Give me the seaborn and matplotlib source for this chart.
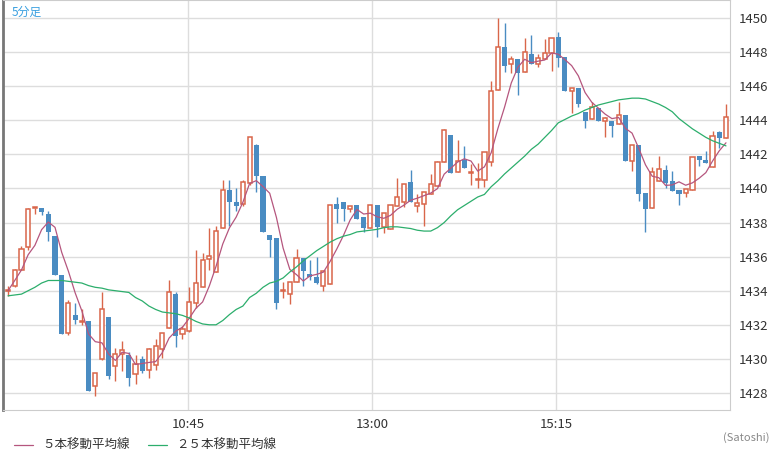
import numpy as np
import pandas as pd
import matplotlib
matplotlib.use("Agg")
import matplotlib.pyplot as plt
import seaborn as sns

opens = [1434.0,1434.3,1435.2,1436.55,1438.85,1438.85,1438.5,1437.2,1434.95,1431.5,1432.6,1432.15,1432.2,1428.4,1430.0,1432.45,1429.6,1430.3,1430.2,1429.1,
 1430.0,1429.35,1429.65,1430.6,1431.8,1433.8,1431.45,1431.65,1433.3,1434.2,1435.85,1435.1,1437.7,1439.9,1439.2,1439.1,1440.3,1442.55,1440.75,1437.25,
 1437.1,1434.0,1433.8,1434.5,1435.9,1435.0,1434.8,1434.3,1434.4,1439.1,1439.2,1438.8,1439.05,1438.3,1437.7,1439.05,1437.75,1437.6,1439.0,1439.2,
 1440.4,1439.0,1439.1,1439.65,1440.15,1441.55,1443.15,1440.95,1441.7,1440.9,1440.5,1440.5,1441.55,1445.75,1448.3,1447.3,1447.6,1446.85,1447.9,1447.3,
 1447.6,1447.95,1448.9,1447.7,1445.7,1445.9,1444.5,1444.1,1444.7,1443.95,1443.95,1443.8,1444.3,1441.6,1442.55,1439.75,1438.85,1440.45,1441.1,1440.45,
 1439.9,1439.75,1439.9,1441.9,1441.7,1441.25,1443.3,1442.95]
highs = [1434.3,1435.3,1436.6,1438.85,1438.85,1438.85,1438.7,1437.2,1434.95,1433.45,1433.3,1432.9,1432.2,1429.2,1433.9,1432.45,1430.65,1431.05,1430.4,1430.2,
 1430.15,1430.65,1431.15,1431.5,1434.6,1433.9,1431.95,1434.2,1436.4,1436.2,1437.7,1437.8,1440.5,1440.5,1440.0,1440.5,1443.0,1442.6,1440.75,1437.25,
 1437.1,1434.5,1434.5,1436.45,1435.9,1435.8,1436.0,1435.15,1439.05,1439.5,1439.2,1439.0,1439.05,1438.3,1439.05,1439.05,1438.55,1439.05,1440.6,1440.25,
 1441.1,1439.7,1439.8,1440.85,1441.6,1443.5,1443.15,1442.85,1442.5,1441.45,1441.5,1442.15,1446.3,1450.0,1449.7,1447.8,1447.6,1448.85,1449.0,1447.9,
 1448.8,1448.85,1449.2,1447.7,1445.9,1445.9,1444.5,1445.1,1444.7,1444.2,1443.95,1445.05,1444.3,1442.55,1442.55,1439.75,1441.25,1441.9,1441.4,1441.0,
 1439.9,1439.95,1441.85,1441.9,1442.2,1443.4,1443.4,1444.95]
lows = [1433.7,1434.2,1435.2,1436.4,1438.5,1438.45,1436.9,1434.9,1431.45,1431.4,1432.05,1432.0,1428.1,1427.8,1429.95,1428.8,1428.7,1429.3,1428.4,1428.5,
 1429.2,1428.9,1429.35,1430.05,1431.8,1430.7,1431.15,1431.6,1433.0,1434.2,1435.2,1435.1,1437.7,1437.8,1438.7,1439.0,1440.2,1439.8,1437.45,1436.0,
 1432.9,1433.6,1433.2,1434.5,1434.3,1434.6,1434.4,1434.0,1434.4,1438.0,1438.1,1438.6,1438.2,1437.45,1437.7,1437.15,1437.4,1437.6,1439.0,1438.9,
 1439.2,1438.6,1437.8,1439.65,1440.15,1441.55,1440.9,1440.95,1441.2,1440.2,1440.0,1440.1,1441.3,1445.75,1446.85,1446.8,1445.5,1446.85,1447.3,1447.1,
 1447.6,1446.9,1447.1,1445.7,1444.45,1444.8,1443.55,1444.1,1443.95,1443.0,1443.0,1443.8,1441.6,1441.0,1439.25,1437.45,1438.85,1440.45,1440.0,1439.85,
 1439.05,1439.5,1439.9,1441.3,1441.5,1441.25,1442.4,1442.95]
closes = [1434.0,1435.2,1436.45,1438.8,1438.85,1438.6,1437.45,1434.9,1431.45,1433.3,1432.3,1432.15,1428.1,1429.2,1432.95,1429.0,1430.3,1430.5,1428.85,1429.7,
 1429.3,1430.6,1430.75,1431.5,1433.95,1431.35,1431.75,1433.35,1434.45,1435.8,1436.05,1437.5,1439.9,1439.2,1438.95,1440.4,1443.0,1440.75,1437.45,1437.0,
 1433.3,1434.0,1434.5,1435.9,1435.15,1434.8,1434.45,1435.15,1439.05,1438.8,1438.8,1439.0,1438.2,1437.7,1439.05,1437.75,1438.55,1439.05,1439.5,1440.25,
 1439.2,1439.15,1439.8,1440.25,1441.55,1443.45,1440.9,1441.6,1441.2,1440.9,1440.5,1442.15,1445.7,1448.3,1447.2,1447.6,1446.8,1448.0,1447.3,1447.65,
 1447.95,1448.85,1447.65,1445.7,1445.9,1444.95,1443.95,1444.8,1443.95,1444.15,1443.65,1444.3,1441.6,1442.55,1439.7,1438.8,1440.95,1441.15,1440.3,1439.85,
 1439.7,1439.95,1441.85,1441.65,1441.5,1443.1,1442.95,1444.2]
ma25 = [1433.7,1433.75,1433.8,1434.0,1434.2,1434.45,1434.6,1434.6,1434.6,1434.55,1434.5,1434.45,1434.3,1434.2,1434.15,1434.05,1434.0,1433.95,1433.9,1433.6,
 1433.4,1433.1,1432.9,1432.75,1432.7,1432.65,1432.55,1432.4,1432.2,1432.05,1432.0,1432.0,1432.25,1432.6,1432.9,1433.1,1433.6,1433.85,1434.2,1434.45,
 1434.55,1434.75,1435.1,1435.4,1435.75,1436.05,1436.35,1436.6,1436.85,1437.05,1437.2,1437.3,1437.45,1437.5,1437.55,1437.6,1437.7,1437.75,1437.75,1437.7,
 1437.65,1437.55,1437.5,1437.5,1437.7,1438.0,1438.4,1438.75,1439.0,1439.25,1439.5,1439.65,1440.1,1440.45,1440.85,1441.2,1441.55,1441.9,1442.3,1442.6,
 1443.0,1443.4,1443.85,1444.05,1444.25,1444.4,1444.6,1444.75,1444.9,1445.0,1445.1,1445.2,1445.25,1445.3,1445.3,1445.25,1445.1,1444.95,1444.75,1444.5,
 1444.1,1443.8,1443.5,1443.25,1443.0,1442.8,1442.65,1442.5]
time_labels = ["10:45", "13:00", "15:15"]
time_pos = [26.8, 54.3, 81.7]
yticks = list(range(1428, 1451, 2))

sns.set_style("white")
plt.rcParams['font.family'] = ['Noto Sans CJK JP', 'DejaVu Sans']

df = pd.DataFrame({"o": opens, "h": highs, "l": lows, "c": closes, "ma25": ma25})
df["i"] = np.arange(len(df))
df["ma5"] = df["c"].rolling(5, min_periods=1).mean()

RED = "#d9664a"
BLUE = "#4a8cc2"

fig = plt.figure(figsize=(7.84, 4.62), dpi=100)
ax = fig.add_axes([3/784, 1-410/462, 727/784, 410/462])
ax.set_xlim(-0.75, 107.6)
ax.set_ylim(1427.0, 1451.06)
for y in yticks:
    ax.axhline(y, color="#dddddd", lw=1, zorder=0)
for p in time_pos:
    ax.axvline(p, color="#dddddd", lw=1, zorder=0)

up = df[df.c >= df.o]
dn = df[df.c < df.o]
ax.vlines(up.i, up.l, up.h, color=RED, lw=1, zorder=2)
ax.vlines(dn.i, dn.l, dn.h, color=BLUE, lw=1, zorder=2)
ax.bar(up.i, np.maximum(up.c - up.o, 0.06), bottom=up.o, width=0.62,
       facecolor="white", edgecolor=RED, lw=1.1, zorder=3)
ax.bar(dn.i, dn.o - dn.c, bottom=dn.c, width=0.75, color=BLUE, lw=0, zorder=3)

sns.lineplot(data=df, x="i", y="ma5", ax=ax, color="#b5567e", lw=0.9, zorder=4)
sns.lineplot(data=df, x="i", y="ma25", ax=ax, color="#2cae6c", lw=0.9, zorder=4)

ax.yaxis.tick_right()
ax.set_yticks(yticks)
ax.set_yticklabels([str(v) for v in yticks], fontsize=9.5, color="#333333")
ax.set_xticks(time_pos)
ax.set_xticklabels(time_labels, fontsize=9.5, color="#333333")
ax.tick_params(length=0, pad=6)
ax.set_xlabel("")
ax.set_ylabel("")
for s in ["top", "right", "bottom"]:
    ax.spines[s].set_color("#cccccc")
ax.spines["left"].set_color("#777777")
ax.spines["left"].set_linewidth(2)

ax.text(0.012, 0.985, "5分足", transform=ax.transAxes, fontsize=8.5, color="#3aa0e0", va="top")

fig.lines.append(plt.Line2D([14/784, 33/784], [1-445/462]*2, color="#b5567e", lw=0.9, transform=fig.transFigure))
fig.text(42/784, 1-445/462, "５本移動平均線", fontsize=9, color="#333333", va="center")
fig.lines.append(plt.Line2D([148/784, 167/784], [1-445/462]*2, color="#2cae6c", lw=0.9, transform=fig.transFigure))
fig.text(176/784, 1-445/462, "２５本移動平均線", fontsize=9, color="#333333", va="center")
fig.text(770/784, 1-438/462, "(Satoshi)", fontsize=8, color="#888888", ha="right", va="center")

fig.savefig("out.png", dpi=100)
